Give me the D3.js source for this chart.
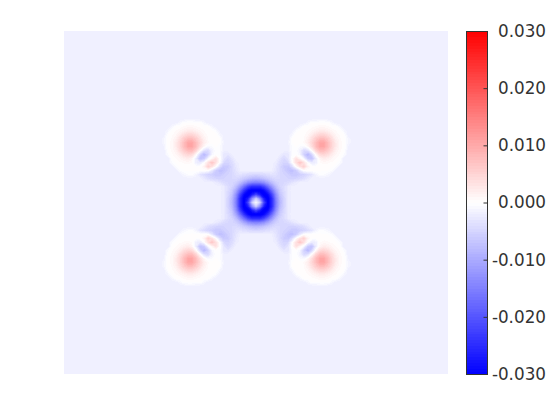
<!DOCTYPE html>
<html>
<head>
<meta charset="utf-8">
<script src="https://cdn.jsdelivr.net/npm/d3@7"></script>
<style>
  body { margin: 0; background: #fff; }
  text { font-family: "DejaVu Sans", sans-serif; }
</style>
</head>
<body>
<script>
// background level of the field, in thousandths
const _ = -1.8;

// upper-left quarter of the field (thousandths)
// the other three quarters are mirror images
const quarter = [
  [_,_,_,_,_,_,_,_,_,_,_,_,_,_,_,_,_,_,_,_,_,_,_,_,_],
  [_,_,_,_,_,_,_,_,_,_,_,_,_,_,_,_,_,_,_,_,_,_,_,_,_],
  [_,_,_,_,_,-1,0,.1,.1,0,0,-1,_,_,_,_,_,_,_,_,_,_,_,_,_],
  [_,_,_,-1,.1,.2,.6,.8,.8,.6,.4,.2,.1,-1,_,_,_,_,_,_,_,_,_,_,_],
  [_,_,-1,.2,.5,1,1.6,2.2,2.2,1.6,1,.5,.2,.1,-.5,_,_,_,_,_,_,_,_,_,_],
  [_,_,0,.4,1,2.2,3.8,4.8,4.8,3.8,2.2,1,.4,.2,.2,-1,_,_,_,_,_,_,_,_,_],
  [_,-1,.2,.6,1.6,3.8,6,7.8,7.8,6,3.8,1.6,.5,.2,.2,0,_,_,_,_,_,_,_,_,_],
  [_,-1,.2,.8,2.2,4.8,7.8,10.5,10.5,7.8,4.8,2.2,.6,.2,.1,0,-1.5,_,_,_,_,_,_,_,_],
  [_,-1.5,.2,.8,2.2,4.8,7.8,10.5,10.5,7.8,4,.8,-.8,-.6,.1,-.5,_,_,_,_,_,_,_,_,_],
  [_,_,.2,.6,1.6,3.8,6,7.8,7.8,5,.6,-3.5,-4.5,-1.5,-.2,-.5,_,_,_,_,_,_,_,_,_],
  [_,_,-.5,.4,1,2.2,3.8,4.8,4.2,.8,-4.5,-8.5,-5.5,-1,.1,-.3,-3,-3,-2,_,_,_,_,_,_],
  [_,_,_,.2,.5,1,1.6,2.2,1.2,-2,-7,-6,-1.2,1.2,3.5,.2,-3,-4.5,-3,_,_,_,_,_,_],
  [_,_,_,-.5,.2,.4,.6,.8,.5,-1.8,-2.5,-.2,3.5,7,3.5,-.5,-4.5,-5,-4,-2.3,_,_,_,_,_],
  [_,_,_,_,-.5,.1,.2,.2,.2,0,.1,1.2,5.5,3.5,.2,-4,-6.5,-6,-4.5,-2.8,_,_,_,_,_],
  [_,_,_,_,_,-.5,0,.1,.1,.1,.1,.1,0,-2.5,-6,-7.5,-7,-5.5,-4.5,-3,-2,_,_,_,_],
  [_,_,_,_,_,_,-1,-.5,-.3,-1.2,-3,-4,-5,-5.5,-6.5,-6.5,-5.5,-5,-4.5,-3.5,-3.2,-3.8,-4.2,-4.6,-4.8],
  [_,_,_,_,_,_,_,_,_,_,_,-2.6,-3.8,-4.5,-5,-5,-5,-4.8,-4.5,-4.3,-5,-6,-7,-8,-8.5],
  [_,_,_,_,_,_,_,_,_,_,_,_,_,_,-2.5,-3.2,-4.2,-4.5,-4.8,-5.5,-7.5,-10.5,-13,-14.5,-15],
  [_,_,_,_,_,_,_,_,_,_,_,_,_,_,_,_,-2.5,-4,-5,-7.5,-12,-17,-22,-25,-25],
  [_,_,_,_,_,_,_,_,_,_,_,_,_,_,_,_,-2.3,-4.2,-6,-10.5,-17,-24,-29,-31,-31],
  [_,_,_,_,_,_,_,_,_,_,_,_,_,_,_,_,-2.5,-4.5,-7,-13,-22,-29,-31,-27,-22],
  [_,_,_,_,_,_,_,_,_,_,_,_,_,_,_,_,-2.5,-5,-8,-14.5,-25,-31,-27,-14,-6],
  [_,_,_,_,_,_,_,_,_,_,_,_,_,_,_,_,-2.5,-5,-8.5,-15,-25,-31,-22,-6,-.5]
];

const tickValues = [-30, -20, -10, 0, 10, 20, 30];
const tickLabels = ["-0.030", "-0.020", "-0.010", "0.000", "0.010", "0.020", "0.030"];

const w = 560;
const h = 420;

const svg = d3.select("body")
              .append("svg")
              .attr("width", w)
              .attr("height", h)
              .style("display", "block");

// mirror the quarter into a full grid
const rows = quarter.concat(quarter.slice(0, -1).reverse());
const grid = rows.map(r => r.concat(r.slice(0, -1).reverse()));
const nx = grid[0].length;
const ny = grid.length;
const values = grid.flat();

// axes run in grid cells, centred on the middle of the field
const x = d3.scaleLinear().domain([-48, 48]).range([64, 448]);
const y = d3.scaleLinear().domain([-43, 43]).range([31, 374]);

const color = d3.scaleLinear()
                .domain([-30, 0, 30])
                .range(["#0000ff", "#ffffff", "#ff0000"]);

// filled bands, same levels for the field and the colorbar
const step = 0.5;
const levels = d3.range(-32, 30, step);
const bandColor = t => color(Math.max(-30, t + step / 2));

svg.append("rect")
   .attr("x", x(-48))
   .attr("y", y(-43))
   .attr("width", x(48) - x(-48))
   .attr("height", y(43) - y(-43))
   .attr("fill", bandColor(-2));

const contours = d3.contours().size([nx, ny]).smooth(true).thresholds(levels)(values);

const toPlot = d3.geoTransform({
  point(px, py) {
    this.stream.point(x(px - 0.5 - (nx - 1) / 2), y(py - 0.5 - (ny - 1) / 2));
  }
});
const path = d3.geoPath(toPlot);

svg.append("g")
   .attr("shape-rendering", "crispEdges")
   .selectAll("path")
   .data(contours)
   .enter()
   .append("path")
   .attr("d", path)
   .attr("fill", d => bandColor(d.value));

// colorbar
const barX = 466.5;
const barW = 21;
const cb = d3.scaleLinear().domain([-30, 30]).range([374, 31]);

svg.append("g")
   .attr("shape-rendering", "crispEdges")
   .selectAll("rect")
   .data(d3.range(-30, 30, step))
   .enter()
   .append("rect")
   .attr("x", barX)
   .attr("width", barW)
   .attr("y", d => cb(d + step))
   .attr("height", d => cb(d) - cb(d + step) + 0.5)
   .attr("fill", d => color(d + step / 2));

svg.append("rect")
   .attr("x", barX)
   .attr("y", cb(30) + 0.5)
   .attr("width", barW)
   .attr("height", cb(-30) - cb(30))
   .attr("fill", "none")
   .attr("stroke", "#333333")
   .attr("stroke-width", 1);

const axis = d3.axisRight(cb)
               .tickValues(tickValues)
               .tickSize(-4)
               .tickFormat(d => tickLabels[tickValues.indexOf(d)]);

const gAxis = svg.append("g")
                 .attr("transform", `translate(${barX + barW},0)`)
                 .call(axis);

gAxis.select(".domain").remove();
gAxis.selectAll("line").attr("stroke", "#333333");
gAxis.selectAll("text")
     .attr("x", 58.5)
     .attr("text-anchor", "end")
     .attr("fill", "#333333")
     .style("font-family", "'DejaVu Sans', sans-serif")
     .style("font-size", "16.8px");
</script>
</body>
</html>
